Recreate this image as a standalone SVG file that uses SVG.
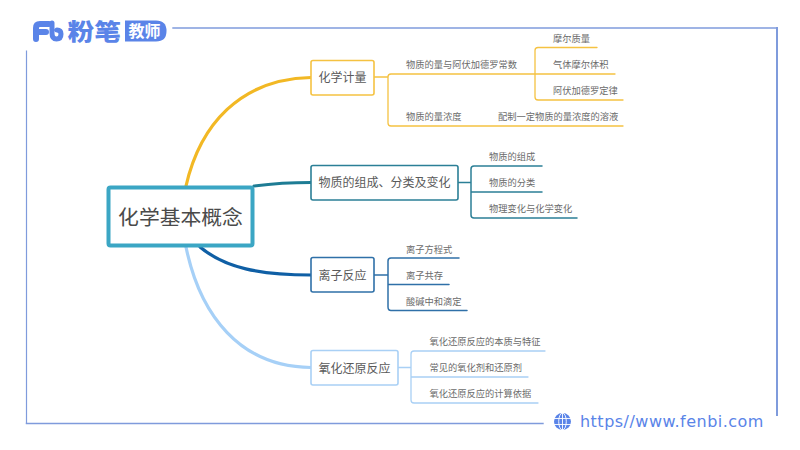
<svg xmlns="http://www.w3.org/2000/svg" width="800" height="450" viewBox="0 0 800 450">
<style>
text{font-family:"Noto Sans CJK SC",sans-serif;fill:#555}
.t{font-size:9.25px;fill:#6b6b6b}
.m{font-size:12px;fill:#5a5a5a}
.f{fill:none;stroke:#7f9bdc;stroke-linecap:square}
.c{fill:none;stroke-linecap:round;stroke-linejoin:round}
.n{fill:#fff;stroke-width:1.6}
.y{stroke:#f5c242}.g{stroke:#2b7f96}.b{stroke:#2f70a8}.l{stroke:#a9d0f5}
</style>
<rect width="800" height="450" fill="#fff"/>
<g id="frame">
<path class="f" stroke-width="1.4" d="M173 28H777"/>
<path class="f" stroke-width="2" d="M777 28V415"/>
<path class="f" stroke-width="1.2" d="M26.500 51V423.500"/>
<path class="f" stroke-width="1.4" d="M26.500 423.500H543"/>
</g>
<g id="logo">
<path d="M36 39V28Q36 24 40 24H49M36 32H46" fill="none" stroke="#5a84e8" stroke-width="6" stroke-linecap="round"/>
<path d="M52 23V33Q52 39 56.500 39Q61 39 61 34Q61 30 57 30" fill="none" stroke="#5a84e8" stroke-width="5" stroke-linecap="round"/>
<text transform="translate(67.500 39.500) scale(1.16 1)" style="font-size:23px;font-weight:900;fill:#5a84e8">粉笔</text>
<path d="M125 20.500H156Q166.500 20.500 166.500 31Q166.500 41.500 156 41.500H125Z" fill="#5a84e8"/>
<text x="128.500" y="37" style="font-size:16px;font-weight:700;fill:#fff">教师</text>
</g>
<g id="connectors">
<path class="c" stroke="#f2b824" stroke-width="3.200" d="M186 186C200 125 240 79 311 77.500"/>
<path class="c" stroke="#1e7c94" stroke-width="3.200" d="M254 186C270 184 290 182.500 311 182.500"/>
<path class="c" stroke="#0f5fa5" stroke-width="3.200" d="M200 247C225 268 260 275 311 275"/>
<path class="c" stroke="#a6d0f7" stroke-width="3.200" d="M186 247C200 315 240 367 311 367.500"/>
<g stroke-width="1.300">
<path class="c y" d="M374 77H388M388 123V77Q388 74 391 74H535M535 74V50.500Q535 47.500 538 47.500H597M535 74V97Q535 100 538 100H623M535 74H615M388 123Q388 126 391 126H623"/>
<path class="c g" d="M458 182.500H471M471 215V169Q471 166 474 166H542M471 192H542M471 215Q471 218 474 218H577" stroke-width="1.500"/>
<path class="c b" d="M374 275H388M388 307V261Q388 258 391 258H459M388 284.500H449M388 307Q388 310.500 391 310.500H467" stroke-width="1.500"/>
<path class="c l" d="M398 367.500H411M411 400V354Q411 351 414 351H545M411 377H528M411 400Q411 403 414 403H538"/>
</g>
</g>
<g id="root"><rect x="108.500" y="187.500" width="144" height="58" rx="2" fill="#fff" stroke="#3ba6c4" stroke-width="4"/><text x="180.500" y="225" text-anchor="middle" style="font-size:20.800px;fill:#4a4a4a">化学基本概念</text></g>
<g id="n1"><rect class="n y" x="311" y="60.500" width="63" height="34.500" rx="2"/><text class="m" x="342.500" y="82" text-anchor="middle">化学计量</text></g>
<g id="n2"><rect class="n g" x="311" y="165.500" width="147" height="34.500" rx="2"/><text class="m" x="384.500" y="187" text-anchor="middle">物质的组成、分类及变化</text></g>
<g id="n3"><rect class="n b" x="311" y="257.500" width="63" height="34.500" rx="2"/><text class="m" x="342.500" y="280" text-anchor="middle">离子反应</text></g>
<g id="n4"><rect class="n l" x="311" y="350.500" width="87" height="34.500" rx="2"/><text class="m" x="354.500" y="372.500" text-anchor="middle">氧化还原反应</text></g>
<g id="leaves">
<text class="t" x="406" y="68">物质的量与阿伏加德罗常数</text>
<text class="t" x="553" y="42">摩尔质量</text>
<text class="t" x="553" y="68">气体摩尔体积</text>
<text class="t" x="553" y="94">阿伏加德罗定律</text>
<text class="t" x="406" y="120">物质的量浓度</text>
<text class="t" x="498" y="120">配制一定物质的量浓度的溶液</text>
<text class="t" x="489" y="160">物质的组成</text>
<text class="t" x="489" y="186">物质的分类</text>
<text class="t" x="489" y="212">物理变化与化学变化</text>
<text class="t" x="406" y="252.500">离子方程式</text>
<text class="t" x="406" y="278.500">离子共存</text>
<text class="t" x="406" y="305">酸碱中和滴定</text>
<text class="t" x="429.500" y="345">氧化还原反应的本质与特征</text>
<text class="t" x="429.500" y="371">常见的氧化剂和还原剂</text>
<text class="t" x="429.500" y="397">氧化还原反应的计算依据</text>
</g>
<g id="url">
<circle cx="562.500" cy="421.500" r="8.500" fill="#5a84e8"/>
<g fill="none" stroke="#fff" stroke-width="0.900"><ellipse cx="562.500" cy="421.500" rx="3.800" ry="8.500"/><path d="M562.500 413V430M554 418.500H571M554 424.500H571"/></g>
<text x="580" y="427" style="font-family:'DejaVu Sans',sans-serif;font-size:16px;fill:#5a84e8;letter-spacing:.48px">https//www.fenbi.com</text>
</g>
</svg>
